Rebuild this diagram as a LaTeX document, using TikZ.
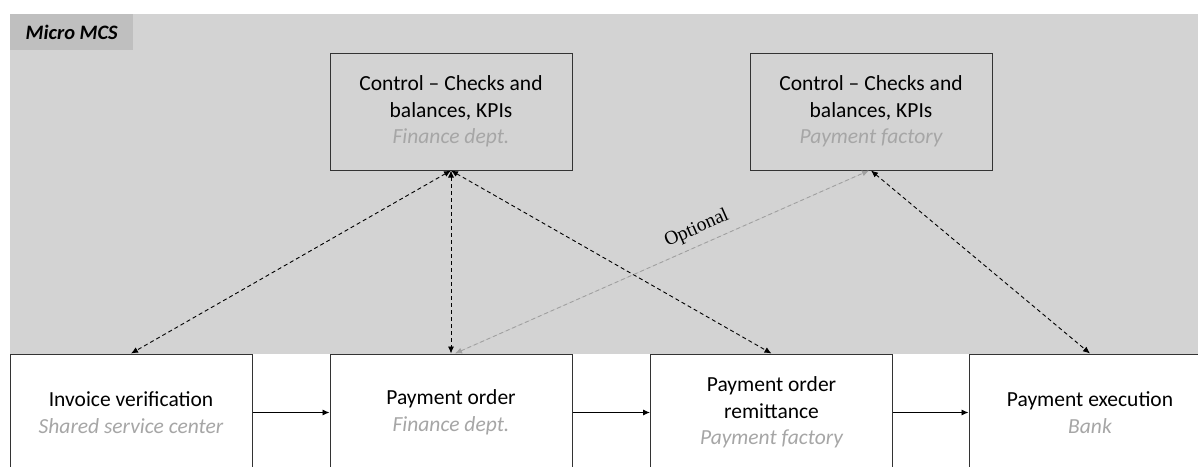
\documentclass[tikz,border=0pt]{standalone}
\usepackage{fontspec}
\setmainfont{Carlito}
\newfontfamily\optserif{Liberation Serif}
\usetikzlibrary{arrows.meta}
\definecolor{bggray}{HTML}{D3D3D3}
\definecolor{lblgray}{HTML}{BFBFBF}
\definecolor{subgray}{HTML}{A6A6A6}
\definecolor{optgray}{HTML}{A0A0A0}
\newcommand{\subtxt}[1]{{\color{subgray}\itshape #1}}
\begin{document}
\begin{tikzpicture}[x=1pt,y=-1pt,
  box/.style={draw=black!80, line width=1pt, minimum width=242pt, minimum height=117pt,
    align=center, font=\fontsize{21.5}{26.5}\selectfont, inner sep=0pt},
  ctlbox/.style={box, fill=bggray},
  flowbox/.style={box, fill=white},
  ctlarrow/.style={{Latex[length=7pt,width=6pt]}-{Latex[length=7pt,width=6pt]}, dash pattern=on 4pt off 3pt, line width=0.9pt},
  optarrow/.style={ctlarrow, draw=optgray, fill=optgray},
  flowarrow/.style={-{Latex[length=7pt,width=6pt]}, line width=0.9pt}]
\useasboundingbox (0,0) rectangle (1198,466);
\clip (0,0) rectangle (1198,466);
\fill[white] (0,0) rectangle (1198,466);
% background region
\node[fill=bggray, anchor=north west, minimum width=1200pt, minimum height=340pt, inner sep=0pt] (bg) at (10,14) {};
\node[fill=lblgray, anchor=north west, minimum width=123pt, minimum height=36pt, inner sep=0pt,
  font=\fontsize{20.5}{22}\selectfont\bfseries\itshape] (lbl) at (10,14) {Micro MCS};
% control boxes
\node[ctlbox] (ctlA) at (451,111.5) {Control -- Checks and\\balances, KPIs\\\subtxt{Finance dept.}};
\node[ctlbox] (ctlB) at (871,111.5) {Control -- Checks and\\balances, KPIs\\\subtxt{Payment factory}};
% flow boxes
\node[flowbox] (inv) at (131,412.5) {Invoice verification\\\subtxt{Shared service center}};
\node[flowbox] (po) at (451,412.5) {Payment order\\\subtxt{Finance dept.}};
\node[flowbox] (por) at (771.5,412.5) {Payment order\\remittance\\\subtxt{Payment factory}};
\node[flowbox] (pe) at (1090,412.5) {Payment execution\\\subtxt{Bank}};
% flow arrows
\draw[flowarrow] (inv.east) -- (po.west);
\draw[flowarrow] (po.east) -- (por.west);
\draw[flowarrow] (por.east) -- (pe.west);
% control arrows
\draw[ctlarrow] (ctlA.south) -- (inv.north);
\draw[ctlarrow] (ctlA.south) -- (po.north);
\draw[ctlarrow] (ctlA.south) -- (por.north);
\draw[ctlarrow] (ctlB.south) -- (pe.north);
\draw[optarrow] ([xshift=4pt]po.north) -- ([xshift=-2pt]ctlB.south)
  node[pos=0.6, above=6pt, sloped, text=black, inner sep=1pt, font=\fontsize{19.5}{21}\optserif] (opt) {Optional};
\end{tikzpicture}
\end{document}
